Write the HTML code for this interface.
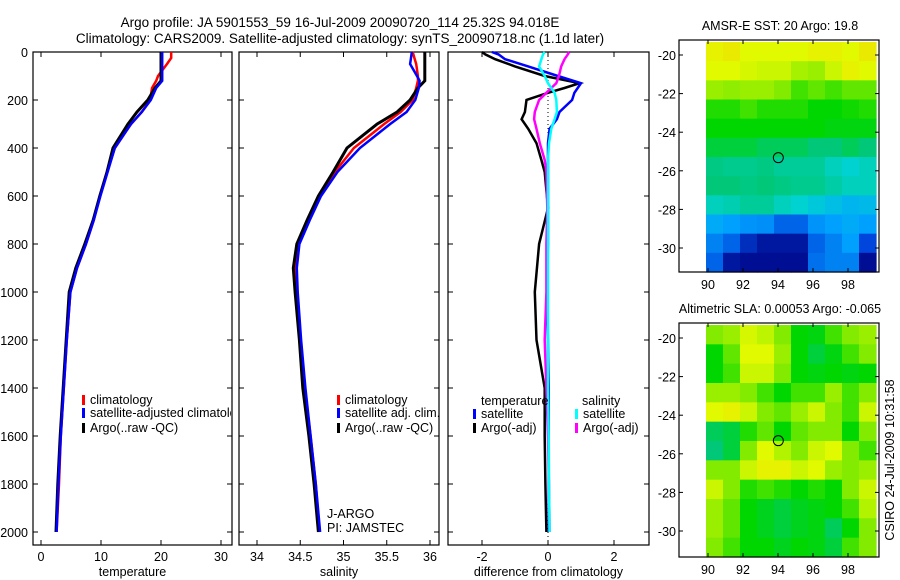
<!DOCTYPE html>
<html><head><meta charset="utf-8"><style>
body{margin:0;background:#fff}
svg{display:block;font-family:"Liberation Sans",sans-serif}
text{font-size:12.5px;fill:#000}
</style></head><body>
<svg id="fig" width="900" height="580" viewBox="0 0 900 580" xmlns="http://www.w3.org/2000/svg">
<text x="340" y="27" text-anchor="middle" style="font-size:13.5px">Argo profile: JA 5901553_59 16-Jul-2009 20090720_114 25.32S 94.018E</text>
<text x="340" y="43" text-anchor="middle" style="font-size:13.5px">Climatology: CARS2009. Satellite-adjusted climatology: synTS_20090718.nc (1.1d later)</text>
<g id="g"></g>
<text transform="translate(894,460) rotate(-90)" text-anchor="middle">CSIRO 24-Jul-2009 10:31:58</text>
</svg>
<script>
// ---- data ----
const depths=[0,25,50,100,120,150,200,250,300,400,500,600,700,800,900,1000,1200,1400,1600,1800,2000];
const tempArgo=[20,20,20,20,20,19,17.8,16,14.5,12,11,9.8,8.7,7.3,5.8,4.7,4.2,3.7,3.2,2.8,2.5];
const tempClim=[21.7,21.7,21,19.5,19.2,18.5,18.2,16.8,15,12.3,11,9.8,8.8,7.5,6,4.9,4.3,3.8,3.3,3,2.6];
const tempSat=[20.2,20.2,20.2,20.2,20.2,19.2,18.3,16.8,15,12.3,11.1,9.9,8.8,7.5,6,4.9,4.3,3.8,3.3,2.9,2.6];
const salArgo=[35.94,35.94,35.94,35.94,35.94,35.86,35.77,35.62,35.39,35.04,34.88,34.71,34.58,34.46,34.42,34.44,34.49,34.53,34.6,34.66,34.71];
const salClim=[35.8,35.82,35.84,35.86,35.86,35.84,35.8,35.66,35.47,35.12,34.9,34.73,34.6,34.48,34.45,34.46,34.5,34.55,34.62,34.68,34.72];
const salSat=[35.79,35.78,35.77,35.85,35.88,35.87,35.83,35.73,35.54,35.19,34.93,34.74,34.61,34.49,34.46,34.47,34.51,34.56,34.62,34.68,34.73];
const ddepths=[0,10,30,60,100,130,150,170,200,250,280,320,380,450,500,650,800,1000,1200,1400,1600,1800,2000];
const dTArgo=[-2,-1.9,-1.6,-1,-0.1,0.95,0.5,0,-0.65,-0.7,-0.8,-0.6,-0.35,-0.2,-0.1,0,-0.27,-0.4,-0.35,-0.1,-0.1,-0.08,-0.05];
const dTSat=[-1.7,-1.5,-1.3,-0.6,0.3,1,0.9,0.8,0.73,0.35,0.27,0.05,0,0,0,0,0,-0.02,0,0.02,0.02,0.02,0.03];
const dSSat=[-0.1,-0.15,-0.2,-0.27,-0.1,0,0.1,0.2,0.25,0.27,0.2,0.1,0.03,0,0,0,0,0,0,0,0.02,0.03,0.05];
const dSArgo=[0.64,0.6,0.5,0.4,0.33,0.25,0.1,-0.05,-0.27,-0.4,-0.42,-0.35,-0.25,-0.1,-0.05,-0.02,-0.05,-0.05,-0.1,-0.05,0,0.03,0.05];
const depthTicks=[0,200,400,600,800,1000,1200,1400,1600,1800,2000];
const tempTicks=[0,10,20,30];
const salTicks=[34,34.5,35,35.5,36];
const diffTicks=[-2,0,2];
const lonTicks=[90,92,94,96,98];
const latTicks=[-20,-22,-24,-26,-28,-30];
const sstGrid=[
[.74,.76,.72,.72,.72,.72,.74,.74,.72,.76],
[.72,.72,.71,.7,.7,.67,.66,.7,.74,.72],
[.66,.65,.66,.66,.64,.6,.62,.6,.62,.62],
[.58,.58,.6,.58,.58,.58,.56,.56,.57,.58],
[.56,.56,.56,.56,.56,.56,.56,.55,.55,.55],
[.52,.52,.52,.5,.5,.5,.48,.48,.5,.48],
[.47,.46,.46,.47,.45,.45,.45,.42,.4,.42],
[.48,.48,.47,.48,.47,.46,.46,.44,.42,.42],
[.42,.43,.45,.45,.42,.4,.38,.36,.34,.35],
[.32,.3,.28,.27,.2,.2,.28,.3,.32,.3],
[.25,.2,.1,.05,.05,.05,.2,.25,.3,.15],
[.2,.05,.03,.03,.03,.03,.22,.25,.25,.03]];
const slaGrid=[
[.64,.66,.71,.69,.64,.56,.55,.6,.64,.66],
[.56,.62,.72,.72,.66,.56,.52,.55,.6,.64],
[.56,.6,.7,.7,.64,.56,.55,.56,.55,.56],
[.66,.66,.64,.6,.56,.6,.6,.66,.6,.64],
[.72,.74,.7,.64,.62,.66,.7,.64,.6,.7],
[.5,.52,.58,.62,.56,.62,.64,.64,.56,.64],
[.48,.52,.64,.72,.68,.64,.7,.72,.64,.6],
[.64,.64,.7,.74,.74,.7,.72,.66,.64,.66],
[.7,.64,.58,.6,.58,.56,.58,.56,.64,.7],
[.66,.62,.56,.54,.52,.54,.55,.56,.6,.68],
[.66,.62,.56,.54,.52,.54,.55,.5,.56,.64],
[.64,.6,.56,.56,.54,.56,.55,.52,.6,.64]];
const floatLon=94.018, floatLat=-25.32;

const NS='http://www.w3.org/2000/svg';
const G=document.getElementById('g');
function mk(tag,attrs,parent){const e=document.createElementNS(NS,tag);for(const k in attrs)e.setAttribute(k,attrs[k]);(parent||G).appendChild(e);return e;}
function txt(s,x,y,anchor,parent){const t=mk('text',{x:x,y:y,'text-anchor':anchor||'start'},parent);t.textContent=s;return t;}

const yD=d=>52+d*0.24;
const xT=v=>41+v*6;
const xS=v=>257+(v-34)*86.5;
const xDf=v=>548+v*33;

function panel(name,x0,x1,xs,xticks,xlabel){
  const g=mk('g',{});
  
  
  mk('rect',{x:x0,y:52,width:x1-x0,height:493,fill:'none',stroke:'#000','stroke-width':1.2},g);
  xticks.forEach(v=>{const x=xs(v);
    mk('line',{x1:x,x2:x,y1:545,y2:540,stroke:'#000'},g);
    mk('line',{x1:x,x2:x,y1:52,y2:57,stroke:'#000'},g);
    const t=txt(String(v),x,561,'middle',g);
    
    });
  depthTicks.forEach(d=>{const y=yD(d);
    mk('line',{x1:x0,x2:x0+5,y1:y,y2:y,stroke:'#000'},g);
    mk('line',{x1:x1,x2:x1-5,y1:y,y2:y,stroke:'#000'},g);});
  const l=txt(xlabel,(x0+x1)/2,576,'middle',g);
  
  
  return g;
}
function line(g,xs,ds,vals,color,w,name){
  const p=mk('polyline',{points:vals.map((v,i)=>xs(v).toFixed(1)+','+yD(ds[i]).toFixed(1)).join(' '),fill:'none',stroke:color,'stroke-width':w},g);
  
  
}
function legend(g,x,y,color,label){
  mk('rect',{x:x,y:y-9,width:3,height:10,fill:color},g);
  const t=txt(label,x+8,y,'start',g);
  
  
}

depthTicks.forEach(d=>{const t=txt(String(d),28,yD(d)+5,'end');
  
  });

const p1=panel('temperature-panel',33,232,xT,tempTicks,'temperature');
line(p1,xT,depths,tempClim,'#f00',2.5,'temp-climatology-line');
line(p1,xT,depths,tempArgo,'#000',3,'temp-argo-line');
line(p1,xT,depths,tempSat,'#00f',2.5,'temp-satellite-line');
const cl=mk('clipPath',{id:'c1'});mk('rect',{x:33,y:52,width:198,height:493},cl);
const lg1=mk('g',{'clip-path':'url(#c1)'},p1);
legend(lg1,82,404,'#f00','climatology');legend(lg1,82,417,'#00f','satellite-adjusted climatology');legend(lg1,82,432,'#000','Argo(..raw -QC)');

const p2=panel('salinity-panel',239,439,xS,salTicks,'salinity');
line(p2,xS,depths,salClim,'#f00',2.5,'sal-climatology-line');
line(p2,xS,depths,salArgo,'#000',3,'sal-argo-line');
line(p2,xS,depths,salSat,'#00f',2.5,'sal-satellite-line');
legend(p2,337,404,'#f00','climatology');legend(p2,337,417,'#00f','satellite adj. clim.');legend(p2,337,432,'#000','Argo(..raw -QC)');
txt('J-ARGO',327,518,'start',p2);txt('PI: JAMSTEC',327,532,'start',p2);

const p3=panel('difference-panel',448,649,xDf,diffTicks,'difference from climatology');
mk('line',{x1:xDf(0),x2:xDf(0),y1:52,y2:545,stroke:'#000','stroke-dasharray':'1,3'},p3);
line(p3,xDf,ddepths,dTArgo,'#000',2.5,'diff-temp-argo-line');
line(p3,xDf,ddepths,dTSat,'#00f',2.5,'diff-temp-satellite-line');
line(p3,xDf,ddepths,dSArgo,'#f0f',2.5,'diff-sal-argo-line');
line(p3,xDf,ddepths,dSSat,'#0ff',2.5,'diff-sal-satellite-line');
txt('temperature',481,405,'start',p3);txt('salinity',582,405,'start',p3);
legend(p3,473,418,'#00f','satellite');legend(p3,473,432,'#000','Argo(-adj)');
legend(p3,575,418,'#0ff','satellite');legend(p3,575,432,'#f0f','Argo(-adj)');

const stops=[[0,[0,0,130]],[0.15,[0,70,220]],[0.3,[0,160,255]],[0.4,[0,210,210]],[0.48,[0,200,120]],[0.56,[0,215,0]],[0.64,[130,235,0]],[0.72,[225,250,0]],[0.85,[255,195,0]],[1,[255,90,0]]];
function cmap(v){
  for(let i=1;i<stops.length;i++){if(v<=stops[i][0]){const a=stops[i-1],b=stops[i],t=(v-a[0])/(b[0]-a[0]);
    return 'rgb('+a[1].map((c,k)=>Math.round(c+(b[1][k]-c)*t)).join(',')+')';}}
  return 'rgb(255,90,0)';
}
function map(name,title,grid,top,bottom,latTop){
  const g=mk('g',{});
  
  
  const lx=lon=>708+(lon-90)*17.5;
  const ly=lat=>latTop+(-20-lat)*19.3;
  const x0=706,x1=876,rows=grid.length,cols=grid[0].length;
  const cw=(x1-x0)/cols,ch=(bottom-top)/rows;
  grid.forEach((row,i)=>row.forEach((v,j)=>{
    const c=mk('rect',{x:(x0+j*cw).toFixed(2),y:(top+i*ch).toFixed(2),width:(cw+0.6).toFixed(2),height:(ch+0.6).toFixed(2),fill:cmap(v)},g);
    
    
  }));
  mk('rect',{x:679,y:top-2,width:200,height:bottom-top+2,fill:'none',stroke:'#000','stroke-width':1.2},g);
  lonTicks.forEach(l=>{const x=lx(l);mk('line',{x1:x,x2:x,y1:bottom,y2:bottom-4,stroke:'#000'},g);mk('line',{x1:x,x2:x,y1:top-2,y2:top+2,stroke:'#000'},g);txt(String(l),x,bottom+17,'middle',g);});
  latTicks.forEach(l=>{const y=ly(l);mk('line',{x1:679,x2:683,y1:y,y2:y,stroke:'#000'},g);mk('line',{x1:879,x2:875,y1:y,y2:y,stroke:'#000'},g);txt(String(l),676,y+5,'end',g);});
  const c=mk('circle',{cx:lx(floatLon),cy:ly(floatLat),r:5,fill:'none',stroke:'#000'},g);
  
  
  const t=txt(title,780,top-12,'middle',g);
  
  
}
map('sst-map','AMSR-E SST: 20 Argo: 19.8',sstGrid,42,272,55);
map('sla-map','Altimetric SLA: 0.00053 Argo: -0.065',slaGrid,325,557,338);
</script>
</body></html>
